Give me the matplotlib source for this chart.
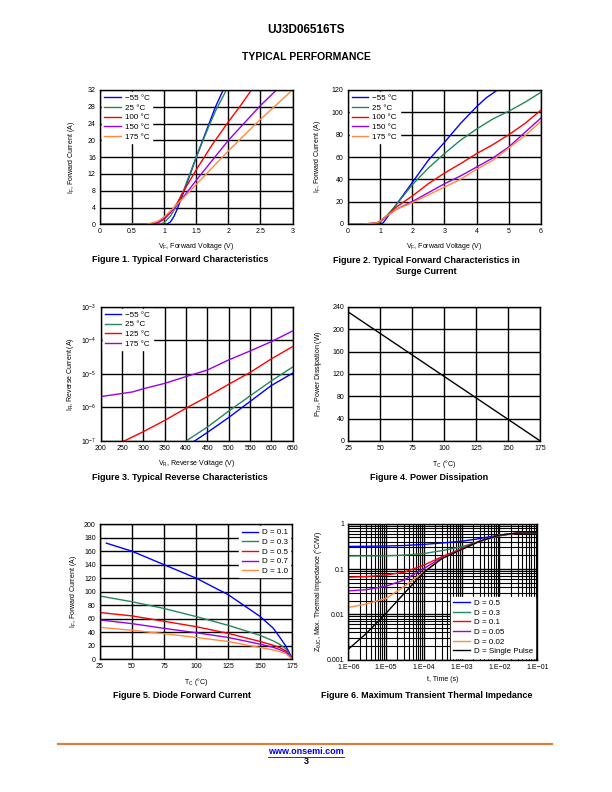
import numpy as np
import matplotlib
matplotlib.use('Agg')
import matplotlib.pyplot as plt
from matplotlib.ticker import FixedLocator, FixedFormatter, FormatStrFormatter, LogLocator, NullFormatter
from matplotlib.lines import Line2D

plt.rcParams['font.family'] = ['Liberation Sans', 'DejaVu Sans']
plt.rcParams['mathtext.default'] = 'regular'

BLUE = '#0000FF'
GREEN = '#23885A'
RED = '#FF0000'
PURPLE = '#9A00E6'
ORANGE = '#FF8A3D'

# ---- Figure 1: typical forward characteristics
temps1 = ['\u221255 \u00b0C', '25 \u00b0C', '100 \u00b0C', '150 \u00b0C', '175 \u00b0C']
vf_m55 = [0, 1.0, 1.05, 1.1, 1.15, 1.2, 1.3, 1.4, 1.5, 1.6, 1.7, 1.8, 1.92]
if_m55 = [0, 0, 0.1, 0.6, 1.8, 3.5, 7.5, 11.7, 16, 20, 24, 28, 32]
vf_25 = [0, 0.9, 0.95, 1.0, 1.1, 1.2, 1.3, 1.4, 1.5, 1.6, 1.7, 1.8, 1.97]
if_25 = [0, 0, 0.1, 0.4, 2.0, 4.6, 8.0, 12, 16, 19.8, 23.5, 27, 32]
vf_100 = [0, 0.8, 0.85, 0.9, 1.0, 1.1, 1.2, 1.3, 1.5, 1.75, 2.0, 2.2, 2.36]
if_100 = [0, 0, 0.1, 0.3, 1.2, 2.8, 5.0, 7.8, 13, 19, 24.4, 28.5, 32]
vf_150 = [0, 0.75, 0.8, 0.9, 1.0, 1.1, 1.2, 1.3, 1.5, 2.0, 2.5, 2.75]
if_150 = [0, 0, 0.1, 0.5, 1.5, 3.0, 4.6, 6.5, 10.5, 20, 28.3, 32]
vf_175 = [0, 0.7, 0.75, 0.9, 1.0, 1.1, 1.2, 1.3, 1.5, 2.0, 2.5, 3.0]
if_175 = [0, 0, 0.1, 0.7, 1.8, 3.2, 4.8, 6.3, 9.5, 17.5, 25, 32]

# ---- Figure 2: forward characteristics in surge current
vs_m55 = [0, 0.5, 1.0, 1.1, 1.2, 1.4, 1.6, 2.0, 2.5, 3.0, 3.5, 4.0, 4.3, 4.65]
is_m55 = [0, 0, 0, 1, 5, 13, 21, 37, 57, 73, 90, 105, 113, 120]
vs_25 = [0, 0.5, 0.9, 1.0, 1.2, 1.5, 2.0, 2.5, 3.0, 3.5, 4.0, 4.5, 5.0, 5.5, 6.0]
is_25 = [0, 0, 0.5, 1.5, 7, 17, 35, 50, 63, 75, 85, 94, 101, 109, 118]
vs_100 = [0, 0.5, 0.9, 1.0, 1.2, 1.5, 2.0, 2.5, 3.0, 3.5, 4.0, 4.5, 5.0, 5.5, 6.0]
is_100 = [0, 0, 0.8, 2, 7, 15, 25, 36, 45.5, 54, 63, 71, 80, 90, 102]
vs_150 = [0, 0.5, 0.9, 1.0, 1.2, 1.5, 2.0, 2.5, 3.0, 3.5, 4.0, 4.5, 5.0, 5.5, 6.0]
is_150 = [0, 0, 1, 2.5, 7, 13, 20, 28, 36, 43, 51, 59, 69, 82, 95]
vs_175 = [0, 0.5, 0.9, 1.0, 1.2, 1.5, 2.0, 2.5, 3.0, 3.5, 4.0, 4.5, 5.0, 5.5, 6.0]
is_175 = [0, 0, 1, 2.5, 7, 13, 19, 26, 33, 40, 49, 57, 68, 79, 92]

# ---- Figure 3: reverse characteristics
temps3 = ['\u221255 \u00b0C', '25 \u00b0C', '125 \u00b0C', '175 \u00b0C']
vr_m55 = [420, 450, 500, 550, 600, 650]
ir_m55 = [1.0e-7, 1.8e-7, 5.0e-7, 1.5e-6, 4.5e-6, 1.05e-5]
vr_25 = [400, 450, 500, 550, 600, 650]
ir_25 = [1.0e-7, 2.6e-7, 7.8e-7, 2.2e-6, 6.2e-6, 1.6e-5]
vr_125 = [255, 300, 350, 400, 450, 500, 550, 600, 650]
ir_125 = [1.0e-7, 1.9e-7, 4.1e-7, 9.5e-7, 2.1e-6, 4.9e-6, 1.1e-5, 2.8e-5, 6.5e-5]
vr_175 = [200, 250, 275, 300, 350, 400, 450, 500, 550, 600, 650]
ir_175 = [2.1e-6, 2.6e-6, 2.9e-6, 3.6e-6, 5.2e-6, 8.3e-6, 1.3e-5, 2.6e-5, 4.8e-5, 9.1e-5, 1.9e-4]

# ---- Figure 4: power dissipation
tc_p = [25, 175]
p_tot = [231, 0]

# ---- Figure 5: diode forward current
duty5 = ['D = 0.1', 'D = 0.3', 'D = 0.5', 'D = 0.7', 'D = 1.0']
tc5_a = [30, 50, 75, 100, 125, 150, 160, 165, 170, 173, 175]
if_d01 = [172, 160, 140, 120, 95.5, 63, 46, 33, 19, 8, 0]
tc5 = [25, 50, 75, 100, 125, 150, 160, 165, 170, 175]
if_d03 = [93.5, 85, 75, 63, 50, 35, 27, 22, 15, 0]
if_d05 = [69, 64, 56, 48, 38, 26, 20.5, 17, 12, 0]
if_d07 = [58, 52.5, 45.5, 39, 32, 22, 17.5, 14, 10, 0]
if_d10 = [47, 42.6, 37.6, 32, 26, 17, 13.5, 11, 8, 0]

# ---- Figure 6: transient thermal impedance
duty6 = ['D = 0.5', 'D = 0.3', 'D = 0.1', 'D = 0.05', 'D = 0.02', 'D = Single Pulse']
t6 = [1e-6, 3e-6, 1e-5, 3e-5, 1e-4, 3e-4, 1e-3, 3e-3, 1e-2, 3e-2, 1e-1]
z_d05 = [0.316, 0.318, 0.322, 0.33, 0.35, 0.375, 0.41, 0.47, 0.56, 0.62, 0.63]
z_d03 = [0.194, 0.195, 0.196, 0.202, 0.22, 0.255, 0.31, 0.41, 0.54, 0.62, 0.63]
z_d01 = [0.066, 0.068, 0.074, 0.085, 0.122, 0.187, 0.285, 0.41, 0.56, 0.62, 0.63]
z_d005 = [0.033, 0.035, 0.042, 0.057, 0.103, 0.178, 0.277, 0.41, 0.56, 0.62, 0.63]
z_d002 = [0.0142, 0.017, 0.0225, 0.041, 0.087, 0.172, 0.27, 0.41, 0.56, 0.62, 0.63]
z_sp = [0.0017, 0.0038, 0.0106, 0.029, 0.085, 0.17, 0.27, 0.41, 0.56, 0.62, 0.63]

TICK = 5
LAB = 5
CAP = 6.5
LW = 1.0


def style(ax):
    ax.grid(True, which='major', color='black', lw=1.0)
    ax.tick_params(length=0, labelsize=TICK, pad=3)
    for s in ax.spines.values():
        s.set_linewidth(1.0)
    ax.set_axisbelow(True)


def legend(ax, loc, **kw):
    lg = ax.legend(loc=loc, fontsize=5.8, frameon=True, fancybox=False,
                   handlelength=2.0, handletextpad=0.5, labelspacing=0.25,
                   borderpad=0.3, borderaxespad=0.25, **kw)
    lg.get_frame().set_edgecolor('white')
    lg.get_frame().set_alpha(1)
    return lg


fig = plt.figure(figsize=(6.12, 7.92), dpi=100)
W, H = 612, 792


def add_ax(x0, y0, x1, y1):
    return fig.add_axes([x0 / W, 1 - y1 / H, (x1 - x0) / W, (y1 - y0) / H])


colors5 = [BLUE, GREEN, RED, PURPLE, ORANGE]

# Figure 1
ax1 = add_ax(100, 90, 292.5, 224.3)
for x, y, c, l in zip([vf_m55, vf_25, vf_100, vf_150, vf_175],
                      [if_m55, if_25, if_100, if_150, if_175], colors5, temps1):
    ax1.plot(x, y, color=c, lw=LW, label=l)
ax1.set_xlim(0, 3)
ax1.set_ylim(0, 32)
ax1.set_xticks(np.arange(0, 3.01, 0.5))
ax1.set_yticks(np.arange(0, 33, 4))
ax1.xaxis.set_major_formatter(FormatStrFormatter('%g'))
style(ax1)
legend(ax1, 'upper left')
ax1.set_xlabel('V$_F$, Forward Voltage (V)', fontsize=LAB, labelpad=4)
ax1.set_ylabel('I$_F$, Forward Current (A)', fontsize=LAB, labelpad=8)

# Figure 2
ax2 = add_ax(347.7, 90, 541, 224)
for x, y, c, l in zip([vs_m55, vs_25, vs_100, vs_150, vs_175],
                      [is_m55, is_25, is_100, is_150, is_175], colors5, temps1):
    ax2.plot(x, y, color=c, lw=LW, label=l)
ax2.set_xlim(0, 6)
ax2.set_ylim(0, 120)
ax2.set_xticks(range(0, 7))
ax2.set_yticks(range(0, 121, 20))
style(ax2)
legend(ax2, 'upper left')
ax2.set_xlabel('V$_F$, Forward Voltage (V)', fontsize=LAB, labelpad=4)
ax2.set_ylabel('I$_F$, Forward Current (A)', fontsize=LAB, labelpad=6)

# Figure 3
ax3 = add_ax(100.7, 306.7, 292.7, 441)
for x, y, c, l in zip([vr_m55, vr_25, vr_125, vr_175],
                      [ir_m55, ir_25, ir_125, ir_175],
                      [BLUE, GREEN, RED, PURPLE], temps3):
    ax3.plot(x, y, color=c, lw=LW, label=l)
ax3.set_yscale('log')
ax3.set_xlim(200, 650)
ax3.set_ylim(1e-7, 1e-3)
ax3.set_xticks(range(200, 651, 50))
ax3.yaxis.set_major_locator(FixedLocator([1e-7, 1e-6, 1e-5, 1e-4, 1e-3]))
ax3.yaxis.set_minor_locator(FixedLocator([]))
ax3.yaxis.set_major_formatter(FixedFormatter(
    ['10$^{\u22127}$', '10$^{\u22126}$', '10$^{\u22125}$', '10$^{\u22124}$', '10$^{\u22123}$']))
style(ax3)
legend(ax3, 'upper left')
ax3.set_xlabel('V$_R$, Reverse Voltage (V)', fontsize=LAB, labelpad=4)
ax3.set_ylabel('I$_R$, Reverse Current (A)', fontsize=LAB, labelpad=4)

# Figure 4
ax4 = add_ax(348.3, 307, 540.3, 441)
ax4.plot(tc_p, p_tot, color='black', lw=LW)
ax4.set_xlim(25, 175)
ax4.set_ylim(0, 240)
ax4.set_xticks(range(25, 176, 25))
ax4.set_yticks(range(0, 241, 40))
style(ax4)
ax4.set_xlabel('T$_C$ ($\\degree$C)', fontsize=LAB, labelpad=4)
ax4.set_ylabel('P$_{Tot}$, Power Dissipation (W)', fontsize=LAB, labelpad=6)

# Figure 5
ax5 = add_ax(100, 524.3, 292.3, 659)
for x, y, c, l in zip([tc5_a, tc5, tc5, tc5, tc5],
                      [if_d01, if_d03, if_d05, if_d07, if_d10], colors5, duty5):
    ax5.plot(x, y, color=c, lw=LW, label=l)
ax5.set_xlim(25, 175)
ax5.set_ylim(0, 200)
ax5.set_xticks(range(25, 176, 25))
ax5.set_yticks(range(0, 201, 20))
style(ax5)
legend(ax5, 'upper right')
ax5.set_xlabel('T$_C$ ($\\degree$C)', fontsize=LAB, labelpad=4)
ax5.set_ylabel('I$_F$, Forward Current (A)', fontsize=LAB, labelpad=4)

# Figure 6
ax6 = add_ax(348.3, 523.7, 537.3, 659.7)
for y, c, l in zip([z_d05, z_d03, z_d01, z_d005, z_d002, z_sp],
                   [BLUE, GREEN, RED, PURPLE, ORANGE, 'black'], duty6):
    ax6.plot(t6, y, color=c, lw=LW, label=l)
ax6.set_xscale('log')
ax6.set_yscale('log')
ax6.set_xlim(1e-6, 1e-1)
ax6.set_ylim(1e-3, 1)
ax6.xaxis.set_major_locator(FixedLocator([1e-6, 1e-5, 1e-4, 1e-3, 1e-2, 1e-1]))
ax6.xaxis.set_major_formatter(FixedFormatter(
    ['1.E\u221206', '1.E\u221205', '1.E\u221204', '1.E\u221203', '1.E\u221202', '1.E\u221201']))
ax6.yaxis.set_major_locator(FixedLocator([1e-3, 1e-2, 1e-1, 1]))
ax6.yaxis.set_major_formatter(FixedFormatter(['0.001', '0.01', '0.1', '1']))
ax6.xaxis.set_minor_locator(LogLocator(base=10, subs=np.arange(2, 10)))
ax6.yaxis.set_minor_locator(LogLocator(base=10, subs=np.arange(2, 10)))
ax6.xaxis.set_minor_formatter(NullFormatter())
ax6.yaxis.set_minor_formatter(NullFormatter())
style(ax6)
ax6.grid(True, which='minor', color='black', lw=0.8)
ax6.tick_params(which='minor', length=0)
legend(ax6, 'lower right')
ax6.set_xlabel('t, Time (s)', fontsize=LAB, labelpad=4)
ax6.set_ylabel('Z$_{\\theta JC}$, Max. Thermal Impedance ($\\degree$C/W)', fontsize=LAB, labelpad=2)

# page text
fig.text(0.5, 1 - 30 / H, 'UJ3D06516TS', ha='center', va='center', fontsize=8.5, fontweight='bold')
fig.text(0.5, 1 - 57 / H, 'TYPICAL PERFORMANCE', ha='center', va='center', fontsize=7.5, fontweight='bold')
fig.text(180 / W, 1 - 260 / H, 'Figure 1. Typical Forward Characteristics', ha='center', va='center',
         fontsize=CAP, fontweight='bold')
fig.text(426 / W, 1 - 266 / H, 'Figure 2. Typical Forward Characteristics in\nSurge Current',
         ha='center', va='center', fontsize=CAP, fontweight='bold', linespacing=1.2)
fig.text(180 / W, 1 - 478 / H, 'Figure 3. Typical Reverse Characteristics', ha='center', va='center',
         fontsize=CAP, fontweight='bold')
fig.text(429 / W, 1 - 478 / H, 'Figure 4. Power Dissipation', ha='center', va='center',
         fontsize=CAP, fontweight='bold')
fig.text(182 / W, 1 - 696 / H, 'Figure 5. Diode Forward Current', ha='center', va='center',
         fontsize=CAP, fontweight='bold')
fig.text(427 / W, 1 - 696 / H, 'Figure 6. Maximum Transient Thermal Impedance', ha='center', va='center',
         fontsize=CAP, fontweight='bold')

fig.add_artist(Line2D([58 / W, 552 / W], [1 - 744 / H, 1 - 744 / H], color='#D9823F', lw=1.6))
fig.text(306 / W, 1 - 752 / H, 'www.onsemi.com', ha='center', va='center', fontsize=6.5,
         fontweight='bold', color='#0000EE')
fig.add_artist(Line2D([268 / W, 344 / W], [1 - 756.5 / H, 1 - 756.5 / H], color='#0000EE', lw=0.6))
fig.text(306 / W, 1 - 762 / H, '3', ha='center', va='center', fontsize=6.5, fontweight='bold')

fig.savefig('out.png', dpi=100)
